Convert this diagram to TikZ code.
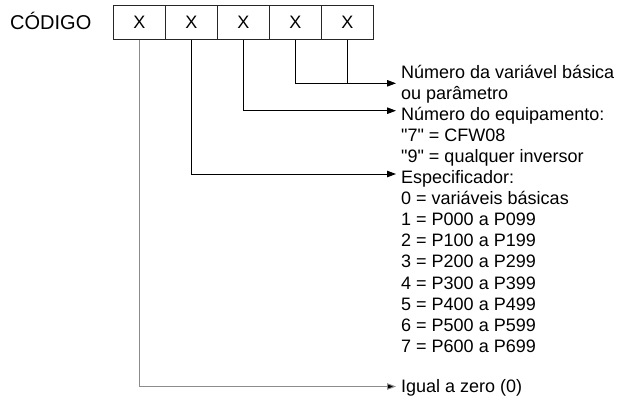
\documentclass[tikz,border=0pt]{standalone}
\usepackage{fontspec}
\setmainfont{Liberation Sans}[Ligatures=TeXOff]
\usetikzlibrary{arrows.meta}
\begin{document}
\begin{tikzpicture}[x=1pt,y=-1pt,
  cell/.style={draw=black!85,line width=0.8pt,minimum width=52pt,minimum height=34pt,inner sep=0pt,font=\fontsize{18}{18}\selectfont},
  lbl/.style={anchor=base west,inner sep=0pt,font=\fontsize{18}{18}\selectfont},
  conn/.style={draw=black,line width=0.9pt},
  arr/.style={conn,-{Triangle[length=9pt,width=6.5pt]}}]
\useasboundingbox (0,0) rectangle (618,400);
\node[anchor=base west,inner sep=0pt,font=\fontsize{20}{20}\selectfont] (cod) at (10,29.8) {CÓDIGO};
\node[cell] (b1) at (139.3,22.3) {X};
\node[cell] (b2) at (191.3,22.3) {X};
\node[cell] (b3) at (243.3,22.3) {X};
\node[cell] (b4) at (295.3,22.3) {X};
\node[cell] (b5) at (347.3,22.3) {X};
% labels
\node[lbl] (t1) at (401,78) {Número da variável básica};
\node[lbl] (t2) at (401,99.1) {ou parâmetro};
\node[lbl] (t3) at (401,120.2) {Número do equipamento:};
\node[lbl] (t4) at (401,141.3) {"7" = CFW08};
\node[lbl] (t5) at (401,162.4) {"9" = qualquer inversor};
\node[lbl] (t6) at (401,183.5) {Especificador:};
\node[lbl] (t7) at (401,204.6) {0 = variáveis básicas};
\node[lbl] (t8) at (401,225.7) {1 = P000 a P099};
\node[lbl] (t9) at (401,246.8) {2 = P100 a P199};
\node[lbl] (t10) at (401,267.9) {3 = P200 a P299};
\node[lbl] (t11) at (401,289) {4 = P300 a P399};
\node[lbl] (t12) at (401,310.1) {5 = P400 a P499};
\node[lbl] (t13) at (401,331.2) {6 = P500 a P599};
\node[lbl] (t14) at (401,352.3) {7 = P600 a P699};
\node[lbl] (t15) at (401,392) {Igual a zero (0)};
% arrow ends
\coordinate (a1) at (396,83.3);
\coordinate (a2) at (396,110.7);
\coordinate (a3) at (396,174);
\coordinate (a4) at (396,386.5);
\draw[arr] (b4.south) |- (a1);
\draw[conn] (b5.south) -- (b5.south |- a1);
\draw[arr] (b3.south) |- (a2);
\draw[arr] (b2.south) |- (a3);
\draw[conn,draw=black!45,-{Triangle[length=9pt,width=6.5pt,fill=black]}] (b1.south) |- (a4);
\end{tikzpicture}
\end{document}
